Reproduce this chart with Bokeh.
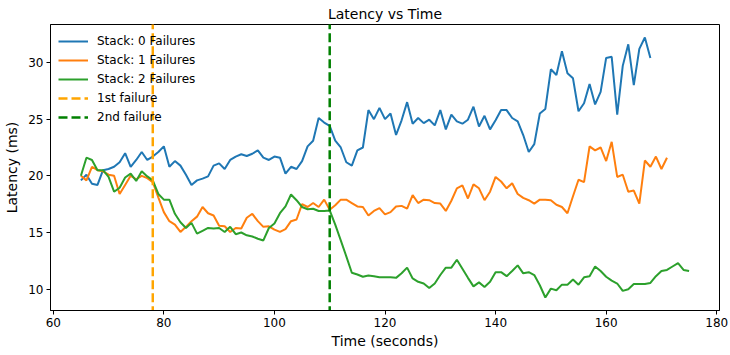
from bokeh.plotting import figure
from bokeh.models import Range1d, FixedTicker
from bokeh.embed import file_html
from bokeh.resources import INLINE

# ---- data ----
time_stack0 = list(range(65, 169))
latency_stack0 = [
    19.6, 20.1, 19.3, 19.2, 20.5, 20.6, 20.8, 21.2, 22.0, 20.8,
    21.4, 22.1, 21.4, 21.7, 22.1, 22.6, 20.8, 21.3, 20.9, 20.1,
    19.2, 19.6, 19.75, 19.95, 20.9, 21.1, 20.6, 21.4, 21.7, 21.9,
    21.75, 21.95, 22.25, 21.6, 21.4, 21.7, 21.6, 20.2, 20.8, 20.6,
    21.3, 22.6, 23.1, 25.1, 24.7, 24.4, 23.1, 22.5, 21.2, 20.9,
    22.25, 22.5, 25.8, 25.0, 26.0, 25.0, 25.5, 23.6, 24.9, 26.5,
    24.6, 25.1, 24.65, 24.95, 24.45, 25.8, 24.1, 25.4, 24.8, 24.6,
    24.95, 26.1, 24.35, 25.3, 24.1, 24.9, 25.8, 25.8, 25.1, 24.8,
    23.6, 22.1, 22.8, 25.5, 25.9, 29.4, 28.9, 31.0, 29.05, 28.6,
    25.7, 26.4, 28.1, 26.3, 27.4, 30.4, 30.5, 25.4, 29.7, 31.6,
    28.0, 31.2, 32.2, 30.4,
]

time_stack1 = list(range(65, 172))
latency_stack1 = [
    20.0, 19.6, 20.8, 20.5, 20.4, 20.1, 20.0, 18.4, 19.2, 20.0,
    19.7, 20.0, 19.8, 19.45, 18.1, 16.8, 16.0, 15.7, 15.05, 15.5,
    16.0, 16.4, 17.25, 16.7, 16.5, 15.6, 15.55, 15.05, 15.4, 15.35,
    16.3, 16.65, 16.0, 15.5, 15.55, 15.25, 15.05, 15.3, 16.0, 16.15,
    17.5, 17.25, 17.6, 17.25, 17.9, 17.0, 17.4, 17.9, 17.9, 17.6,
    17.3, 17.25, 16.5, 16.9, 17.15, 16.6, 16.8, 17.3, 17.35, 17.1,
    18.3, 17.6, 17.9, 17.85, 17.6, 17.55, 16.9, 17.8, 18.9, 19.15,
    18.0, 19.25, 18.9, 17.85, 18.6, 19.9, 19.5, 18.9, 19.35, 18.4,
    18.05, 17.85, 17.55, 17.9, 17.9, 17.85, 17.45, 17.25, 16.7, 18.2,
    19.65, 19.45, 22.6, 22.25, 22.5, 21.3, 23.0, 19.9, 20.1, 18.6,
    18.7, 17.55, 21.35, 20.8, 21.7, 20.6, 21.6,
]

time_stack2 = list(range(65, 176))
latency_stack2 = [
    20.0, 21.6, 21.4, 20.5, 20.5, 19.9, 18.6, 18.95, 19.85, 20.2,
    19.55, 20.4, 19.95, 19.6, 18.4, 17.9, 17.9, 16.65, 15.9, 15.4,
    15.85, 14.9, 15.15, 15.4, 15.35, 15.4, 15.05, 15.5, 14.85, 15.0,
    14.75, 14.65, 14.45, 14.3, 15.4, 15.8, 16.7, 17.3, 18.35, 17.85,
    17.25, 17.05, 17.1, 16.9, 16.9, 16.95, 15.7, 14.3, 12.9, 11.45,
    11.3, 11.1, 11.2, 11.15, 11.05, 11.05, 11.05, 11.0, 11.4, 11.9,
    10.95, 10.65, 10.5, 10.1, 10.5, 11.25, 11.9, 11.9, 12.6, 11.8,
    11.0, 10.25, 10.6, 10.2, 10.65, 11.5, 11.5, 11.15, 11.6, 12.1,
    11.4, 11.5, 11.25, 10.35, 9.27, 10.05, 9.9, 10.4, 10.4, 10.85,
    10.4, 11.05, 11.15, 12.0, 11.6, 11.1, 10.75, 10.5, 9.85, 10.0,
    10.45, 10.45, 10.45, 10.55, 11.15, 11.6, 11.7, 12.0, 12.3, 11.7,
    11.6,
]

series_labels = ["Stack: 0 Failures", "Stack: 1 Failures", "Stack: 2 Failures"]
series_colors = ["#1f77b4", "#ff7f0e", "#2ca02c"]

failure_times = [78, 110]
failure_labels = ["1st failure", "2nd failure"]
failure_colors = ["#ffa500", "#008000"]

x_ticks = [60, 80, 100, 120, 140, 160, 180]
y_ticks = [10, 15, 20, 25, 30]

X_LO, X_HI = 59.5, 180.5
Y_LO, Y_HI = 8.12, 33.35

FONT = "DejaVu Sans"

W, H = 730, 355

p = figure(
    width=W, height=H,
    x_range=Range1d(X_LO, X_HI), y_range=Range1d(Y_LO, Y_HI),
    output_backend="svg", toolbar_location=None,
    title="Latency vs Time",
    min_border_left=50, min_border_right=11,
    min_border_top=0, min_border_bottom=45,
)

xs = [time_stack0, time_stack1, time_stack2]
ys = [latency_stack0, latency_stack1, latency_stack2]
for x, y, lab, col in zip(xs, ys, series_labels, series_colors):
    p.line(x, y, line_color=col, line_width=2, legend_label=lab)

for ft, lab, col in zip(failure_times, failure_labels, failure_colors):
    p.segment(x0=[ft], y0=[Y_LO - 5], x1=[ft], y1=[Y_HI + 5],
              line_color=col, line_width=2.5, line_dash="9 4", legend_label=lab)

# title
p.title.text_font = FONT
p.title.text_font_size = "14px"
p.title.text_font_style = "normal"
p.title.text_color = "black"
p.title.align = "center"
p.title.standoff = 6
p.title.offset = 0

# frame
p.background_fill_color = "white"
p.border_fill_color = "white"
p.outline_line_color = "black"
p.outline_line_width = 1
p.grid.visible = False

for ax in (p.xaxis[0], p.yaxis[0]):
    ax.axis_line_color = "black"
    ax.major_tick_line_color = "black"
    ax.major_tick_out = 4
    ax.major_tick_in = 0
    ax.minor_tick_line_color = None
    ax.major_label_text_font = FONT
    ax.major_label_text_font_size = "12px"
    ax.major_label_text_color = "black"
    ax.major_label_standoff = 3
    ax.axis_label_text_font = FONT
    ax.axis_label_text_font_size = "14px"
    ax.axis_label_text_font_style = "normal"
    ax.axis_label_text_color = "black"

p.xaxis.ticker = FixedTicker(ticks=x_ticks)
p.yaxis.ticker = FixedTicker(ticks=y_ticks)
p.xaxis.axis_label = "Time (seconds)"
p.xaxis.axis_label_standoff = 3
p.yaxis.axis_label = "Latency (ms)"
p.yaxis.axis_label_standoff = 5

# legend
LEG_PAD, LEG_ROW, LEG_SP = 8, 18, 1
lg = p.legend[0]
lg.location = "top_left"
lg.margin = 0
lg.padding = LEG_PAD
lg.background_fill_alpha = 0
lg.border_line_alpha = 0
lg.label_text_font = FONT
lg.label_text_font_size = "12px"
lg.label_text_color = "black"
lg.glyph_width = 30
lg.glyph_height = LEG_ROW
lg.label_height = LEG_ROW
lg.label_standoff = 9
lg.spacing = LEG_SP

open("out.html", "w").write(file_html(p, INLINE))
